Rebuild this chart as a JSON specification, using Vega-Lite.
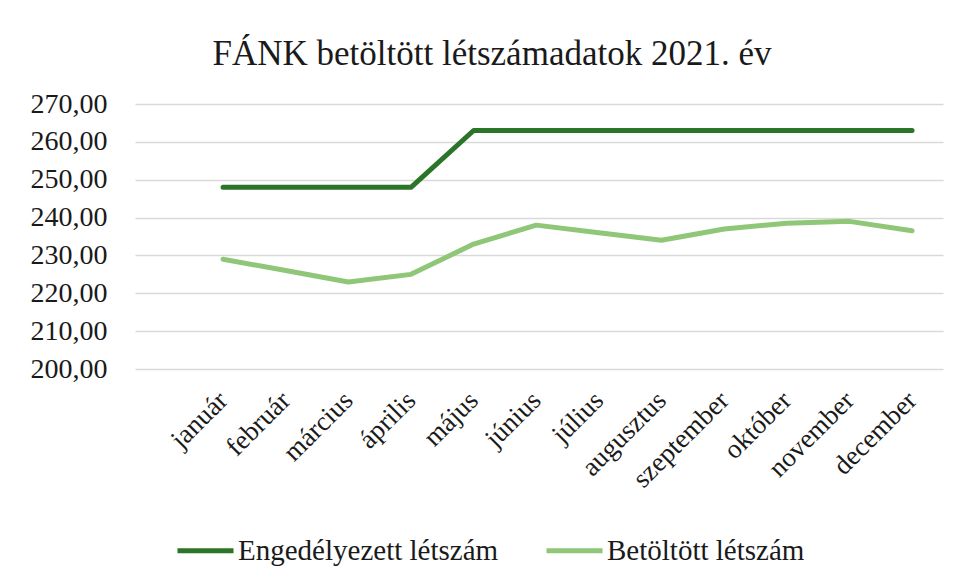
{
  "$schema": "https://vega.github.io/schema/vega-lite/v6.json",
  "autosize": {"type": "none"},
  "width": 808,
  "height": 265,
  "padding": {"left": 135, "top": 104, "right": 12, "bottom": 206},
  "background": "white",
  "title": {
    "text": "FÁNK betöltött létszámadatok 2021. év",
    "font": "Liberation Serif",
    "fontSize": 35,
    "fontWeight": "normal",
    "color": "#1a1a1a",
    "anchor": "middle",
    "frame": "group",
    "dx": -47,
    "offset": 18
  },
  "data": {
    "values": [
      {"honap": "január", "sorozat": "Engedélyezett létszám", "ertek": 248},
      {"honap": "február", "sorozat": "Engedélyezett létszám", "ertek": 248},
      {"honap": "március", "sorozat": "Engedélyezett létszám", "ertek": 248},
      {"honap": "április", "sorozat": "Engedélyezett létszám", "ertek": 248},
      {"honap": "május", "sorozat": "Engedélyezett létszám", "ertek": 263},
      {"honap": "június", "sorozat": "Engedélyezett létszám", "ertek": 263},
      {"honap": "július", "sorozat": "Engedélyezett létszám", "ertek": 263},
      {"honap": "augusztus", "sorozat": "Engedélyezett létszám", "ertek": 263},
      {"honap": "szeptember", "sorozat": "Engedélyezett létszám", "ertek": 263},
      {"honap": "október", "sorozat": "Engedélyezett létszám", "ertek": 263},
      {"honap": "november", "sorozat": "Engedélyezett létszám", "ertek": 263},
      {"honap": "december", "sorozat": "Engedélyezett létszám", "ertek": 263},
      {"honap": "január", "sorozat": "Betöltött létszám", "ertek": 229},
      {"honap": "február", "sorozat": "Betöltött létszám", "ertek": 226},
      {"honap": "március", "sorozat": "Betöltött létszám", "ertek": 223},
      {"honap": "április", "sorozat": "Betöltött létszám", "ertek": 225},
      {"honap": "május", "sorozat": "Betöltött létszám", "ertek": 233},
      {"honap": "június", "sorozat": "Betöltött létszám", "ertek": 238},
      {"honap": "július", "sorozat": "Betöltött létszám", "ertek": 236},
      {"honap": "augusztus", "sorozat": "Betöltött létszám", "ertek": 234},
      {"honap": "szeptember", "sorozat": "Betöltött létszám", "ertek": 237},
      {"honap": "október", "sorozat": "Betöltött létszám", "ertek": 238.5},
      {"honap": "november", "sorozat": "Betöltött létszám", "ertek": 239},
      {"honap": "december", "sorozat": "Betöltött létszám", "ertek": 236.5}
    ]
  },
  "mark": {"type": "line", "strokeWidth": 5, "strokeJoin": "round", "strokeCap": "round"},
  "encoding": {
    "x": {
      "field": "honap",
      "type": "ordinal",
      "sort": null,
      "scale": {"type": "point", "padding": 0.95, "align": 0.74},
      "axis": {
        "title": null,
        "labelAngle": -45,
        "labelAlign": "right",
        "labelBaseline": "middle",
        "labelPadding": 27,
        "labelFont": "Liberation Serif",
        "labelFontSize": 27,
        "labelColor": "#1a1a1a",
        "ticks": false,
        "domain": false,
        "grid": false
      }
    },
    "y": {
      "field": "ertek",
      "type": "quantitative",
      "scale": {"domain": [200, 270], "nice": false, "zero": false},
      "axis": {
        "title": null,
        "values": [200, 210, 220, 230, 240, 250, 260, 270],
        "format": ".2f",
        "labelExpr": "replace(datum.label, '.', ',')",
        "labelFont": "Liberation Serif",
        "labelFontSize": 28,
        "labelColor": "#1a1a1a",
        "labelPadding": 28,
        "ticks": false,
        "domain": false,
        "grid": true,
        "gridColor": "#d9d9d9",
        "gridWidth": 1.5
      }
    },
    "color": {
      "field": "sorozat",
      "type": "nominal",
      "sort": null,
      "scale": {
        "domain": ["Engedélyezett létszám", "Betöltött létszám"],
        "range": ["#2a7527", "#8fc678"]
      },
      "legend": {
        "title": null,
        "orient": "none",
        "direction": "horizontal",
        "legendX": 40,
        "legendY": 416,
        "symbolType": "stroke",
        "symbolSize": 3136,
        "symbolStrokeWidth": 5,
        "labelFont": "Liberation Serif",
        "labelFontSize": 29,
        "labelColor": "#1a1a1a",
        "labelOffset": 2,
        "columnPadding": 37,
        "labelLimit": 400
      }
    }
  },
  "config": {"view": {"stroke": null}}
}
